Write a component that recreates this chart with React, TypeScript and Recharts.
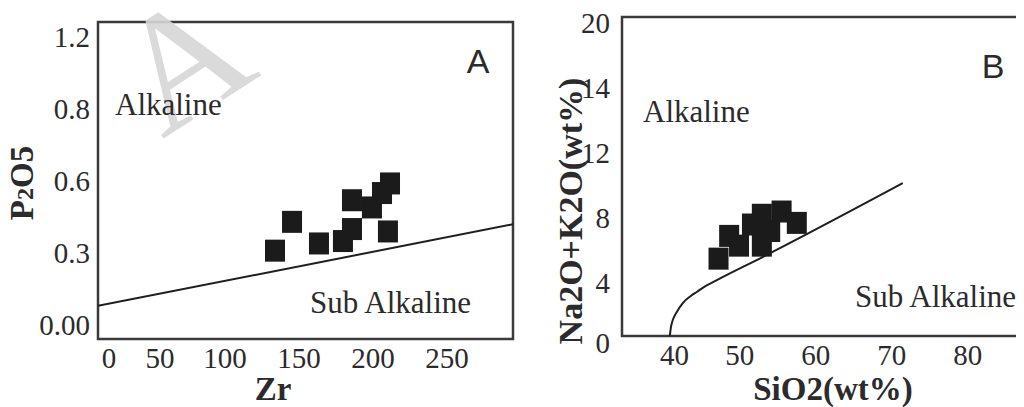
import React from 'react';
import { ComposedChart, Scatter, Line, XAxis, YAxis, ReferenceArea } from 'recharts';

// panel A: Zr vs P2O5
const ZR = [133.8, 145.3, 163.5, 179.7, 185.8, 185.8, 199.3, 206.1, 211.5, 210.1];
const P2O5 = [0.31, 0.43, 0.34, 0.35, 0.4, 0.52, 0.49, 0.55, 0.59, 0.39];
const LINE_A_ZR = [14.2, 294.6];
const LINE_A_P2O5 = [0.08, 0.42];
const X_TICKS_A = [21.6, 56.1, 100, 150, 200, 250];
const X_LABELS_A = ['0', '50', '100', '150', '200', '250'];
const Y_TICKS_A = [0, 0.3, 0.6, 0.9, 1.2];
const Y_LABELS_A = ['0.00', '0.3', '0.6', '0.8', '1.2'];

// panel B: SiO2 vs Na2O+K2O
const SIO2 = [47.2, 48.6, 49.9, 51.6, 52.9, 52.9, 54.0, 55.5, 57.5];
const ALKALI = [5.5, 6.9, 6.3, 7.6, 8.2, 6.3, 7.2, 8.4, 7.7];
const LINE_B_SIO2 = [40.79, 40.92, 41.18, 41.71, 42.5, 43.55, 44.34, 45.53, 46.97, 53.0, 71.45];
const LINE_B_ALKALI = [0.74, 1.23, 1.72, 2.22, 2.77, 3.2, 3.45, 3.82, 4.18, 5.6, 10.15];
const X_TICKS_B = [41.4, 50, 60, 70, 80];
const X_LABELS_B = ['40', '50', '60', '70', '80'];
const Y_TICKS_B = [0.3, 4, 8, 12, 16, 20];
const Y_LABELS_B = ['0', '4', '8', '12', '14', '20'];

const serif = '"Liberation Serif", "Times New Roman", serif';
const ink = '#2b2b2b';

const pointsA = ZR.map((x, i) => ({ x, y: P2O5[i] }));
const lineA = LINE_A_ZR.map((x, i) => ({ x, y: LINE_A_P2O5[i] }));
const pointsB = SIO2.map((x, i) => ({ x, y: ALKALI[i] }));
const lineB = LINE_B_SIO2.map((x, i) => ({ x, y: LINE_B_ALKALI[i] }));

const Square = (props: any) => {
  const { cx, cy } = props;
  if (cx == null || cy == null) return null;
  return <rect x={cx - 10} y={cy - 11} width={20} height={22} fill="#1b1b1b" />;
};

// tick text drawn by hand so the serif font sticks
const SerifTick = (props: any) => {
  const { x, y, payload, ticks, labels, axis } = props;
  const label = labels[ticks.indexOf(payload.value)] ?? '';
  return (
    <text
      x={x}
      y={y}
      dy={axis === 'x' ? '0.72em' : '0.35em'}
      textAnchor={axis === 'x' ? 'middle' : 'end'}
      fontFamily={serif}
      fontSize={29}
      fill={ink}
    >
      {label}
    </text>
  );
};

type PanelProps = {
  points: { x: number; y: number }[];
  line: { x: number; y: number }[];
  xDomain: [number, number];
  yDomain: [number, number];
  xTicks: number[];
  xLabels: string[];
  yTicks: number[];
  yLabels: string[];
  width: number;
  margin: { top: number; right: number; bottom: number; left: number };
  yWidth: number;
  xHeight: number;
  yTickMargin: number;
  curve: 'linear' | 'monotone';
};

const Panel = (p: PanelProps) => (
  <ComposedChart width={p.width} height={407} margin={p.margin}>
    <XAxis
      type="number"
      dataKey="x"
      domain={p.xDomain}
      allowDataOverflow
      ticks={p.xTicks}
      interval={0}
      tick={<SerifTick axis="x" ticks={p.xTicks} labels={p.xLabels} />}
      tickLine={false}
      axisLine={false}
      height={p.xHeight}
    />
    <YAxis
      type="number"
      dataKey="y"
      domain={p.yDomain}
      allowDataOverflow
      ticks={p.yTicks}
      interval={0}
      tick={<SerifTick axis="y" ticks={p.yTicks} labels={p.yLabels} />}
      tickLine={false}
      axisLine={false}
      tickMargin={p.yTickMargin}
      width={p.yWidth}
    />
    <ReferenceArea
      x1={p.xDomain[0]}
      x2={p.xDomain[1]}
      y1={p.yDomain[0]}
      y2={p.yDomain[1]}
      fill="none"
      stroke="#3a3a3a"
      strokeWidth={2.5}
    />
    <Line
      data={p.line}
      dataKey="y"
      type={p.curve}
      stroke="#1e1e1e"
      strokeWidth={2}
      dot={false}
      isAnimationActive={false}
    />
    <Scatter data={p.points} dataKey="y" shape={<Square />} isAnimationActive={false} />
  </ComposedChart>
);

export default function App() {
  return (
    <div
      style={{
        position: 'relative',
        width: 1024,
        height: 407,
        margin: '-8px 0 0 -8px',
        overflow: 'hidden',
        background: '#fff',
      }}
    >
      <div style={{ position: 'absolute', left: 0, top: 0 }}>
        <Panel
          points={pointsA}
          line={lineA}
          xDomain={[14.2, 294.6]}
          yDomain={[-0.058, 1.2625]}
          xTicks={X_TICKS_A}
          xLabels={X_LABELS_A}
          yTicks={Y_TICKS_A}
          yLabels={Y_LABELS_A}
          width={540}
          margin={{ top: 22, right: 27, bottom: 0, left: 0 }}
          yWidth={98}
          xHeight={68}
          yTickMargin={2}
          curve="linear"
        />
      </div>
      <div style={{ position: 'absolute', left: 520, top: 0 }}>
        <Panel
          points={pointsB}
          line={lineB}
          xDomain={[34.5, 89.5]}
          yDomain={[0.74, 20.37]}
          xTicks={X_TICKS_B}
          xLabels={X_LABELS_B}
          yTicks={Y_TICKS_B}
          yLabels={Y_LABELS_B}
          width={540}
          margin={{ top: 17, right: 20, bottom: 0, left: 0 }}
          yWidth={102}
          xHeight={71}
          yTickMargin={6}
          curve="monotone"
        />
      </div>
      <svg
        width={1024}
        height={407}
        style={{ position: 'absolute', left: 0, top: 0, pointerEvents: 'none' }}
      >
        <text
          x={185}
          y={115}
          fontSize={165}
          fontFamily={serif}
          fill="#d6d6d6"
          opacity={0.9}
          textAnchor="middle"
          transform="rotate(-33 185 65)"
        >
          A
        </text>
        <g fontFamily={serif} fill={ink} fontSize={31}>
          <text x={115} y={115}>Alkaline</text>
          <text x={310} y={313}>Sub Alkaline</text>
          <text x={643} y={122}>Alkaline</text>
          <text x={855} y={307}>Sub Alkaline</text>
        </g>
        <g fontFamily={'"Liberation Sans", Arial, sans-serif'} fill={ink} fontSize={34}>
          <text x={478} y={73} textAnchor="middle">A</text>
          <text x={993} y={78} textAnchor="middle">B</text>
        </g>
        <g fontFamily={serif} fill={ink} fontWeight="bold" fontSize={33}>
          <text x={273} y={400} textAnchor="middle">Zr</text>
          <text x={833} y={400} textAnchor="middle">SiO2(wt%)</text>
          <text x={33} y={183} textAnchor="middle" transform="rotate(-90 33 183)">
            P<tspan fontSize={24}>2</tspan>O5
          </text>
          <text x={582} y={211} textAnchor="middle" fontSize={34} transform="rotate(-90 582 211)">
            Na2O+K2O(wt%)
          </text>
        </g>
      </svg>
    </div>
  );
}
